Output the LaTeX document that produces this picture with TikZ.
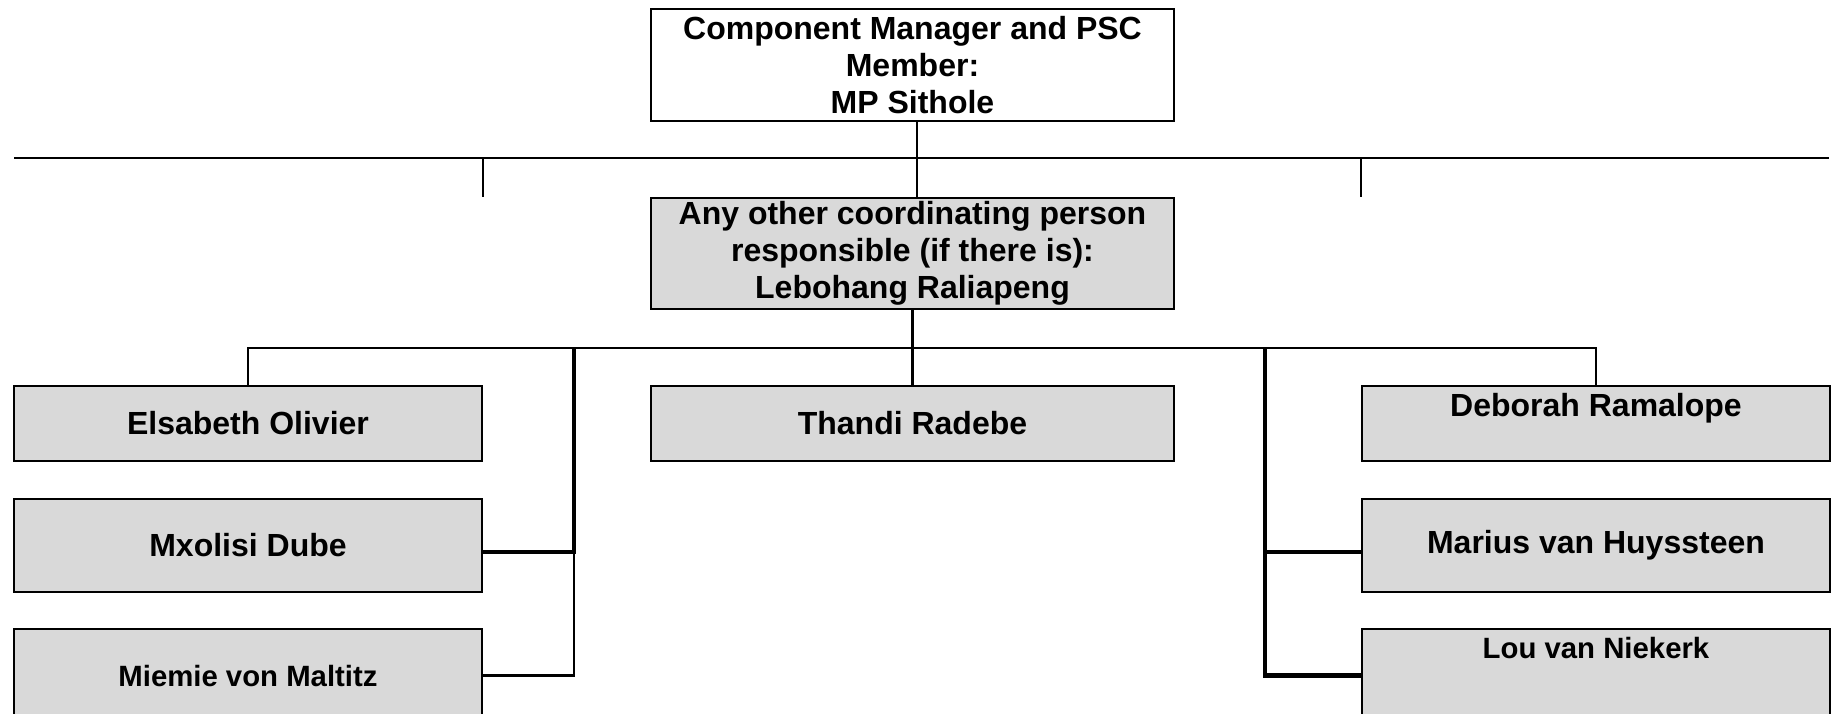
\documentclass[tikz,border=0pt]{standalone}
\usepackage{fontspec}
\setmainfont{Liberation Sans}
\definecolor{boxgray}{HTML}{D9D9D9}
\tikzset{
  orgbox/.style={draw, line width=0.8pt, fill=boxgray, align=center, inner sep=0.75pt, font=\fontsize{12}{13.8}\selectfont\bfseries},
  smalltxt/.style={font=\fontsize{11}{12.65}\selectfont\bfseries},
  widebox/.style={minimum width=196.1pt},
  sidebox/.style={minimum width=175.5pt},
  link/.style={line width=0.8pt},
  heavylink/.style={line width=1.8pt},
}
\begin{document}
\begin{tikzpicture}[x=0.75pt,y=0.75pt,yscale=-0.5,xscale=0.5]
\useasboundingbox (0,0) rectangle (1836,713);

\node[orgbox, widebox, fill=white, minimum height=42pt] (mgr) at (912.5,65) {Component Manager and PSC\\Member:\\MP Sithole};
\node[orgbox, widebox, minimum height=41.6pt] (coord) at (912.5,253.5) {Any other coordinating person\\responsible (if there is):\\Lebohang Raliapeng};

\node[orgbox, sidebox, minimum height=28.1pt] (eliz) at (248,423.5) {Elsabeth Olivier};
\node[orgbox, widebox, minimum height=28.1pt] (thandi) at (912.5,423.5) {Thandi Radebe};
\node[orgbox, sidebox, minimum height=28.1pt, text height=8.8pt, text depth=14pt] (deb) at (1596,423.5) {Deborah Ramalope};
\node[orgbox, sidebox, minimum height=34.9pt] (mxo) at (248,545.5) {Mxolisi Dube};
\node[orgbox, sidebox, minimum height=34.9pt, smalltxt] (mie) at (248,675.5) {Miemie von Maltitz};
\node[orgbox, sidebox, minimum height=34.9pt] (mar) at (1596,545.5) {Marius van Huyssteen};
\node[orgbox, sidebox, minimum height=34.9pt, smalltxt, text height=8pt, text depth=21pt] (lou) at (1596,675.5) {Lou van Niekerk};

\coordinate (barL) at (14,158);
\coordinate (barR) at (1829,158);
\coordinate (top) at (917,158);
\coordinate (bus) at (912.5,348);
\coordinate (lbus) at (574,348);
\coordinate (rbus) at (1265,348);
\coordinate (lj) at (574,552);
\coordinate (rj) at (1265,552);

% top bar
\draw[link] (barL) -- (barR);
\draw[link] (eliz.east |- barL) -- ++(0,39);
\draw[link] (deb.west |- barL) -- ++(0,39);
\draw[link] (top |- mgr.south) -- (top |- coord.north);

% staff
\draw[link] (coord.south) -- (bus);
\draw[link] (eliz.north) |- (bus) -| (deb.north);
\draw[link] (bus) -- (thandi.north);

\draw[heavylink] (lbus) -- (lj) -- (mxo.east |- lj);
\draw[link] (lj) |- (mie.east);
\draw[heavylink] (rbus) -- (rj) -- (mar.west |- rj);
\draw[heavylink] (rj) |- (lou.west);
\end{tikzpicture}
\end{document}
